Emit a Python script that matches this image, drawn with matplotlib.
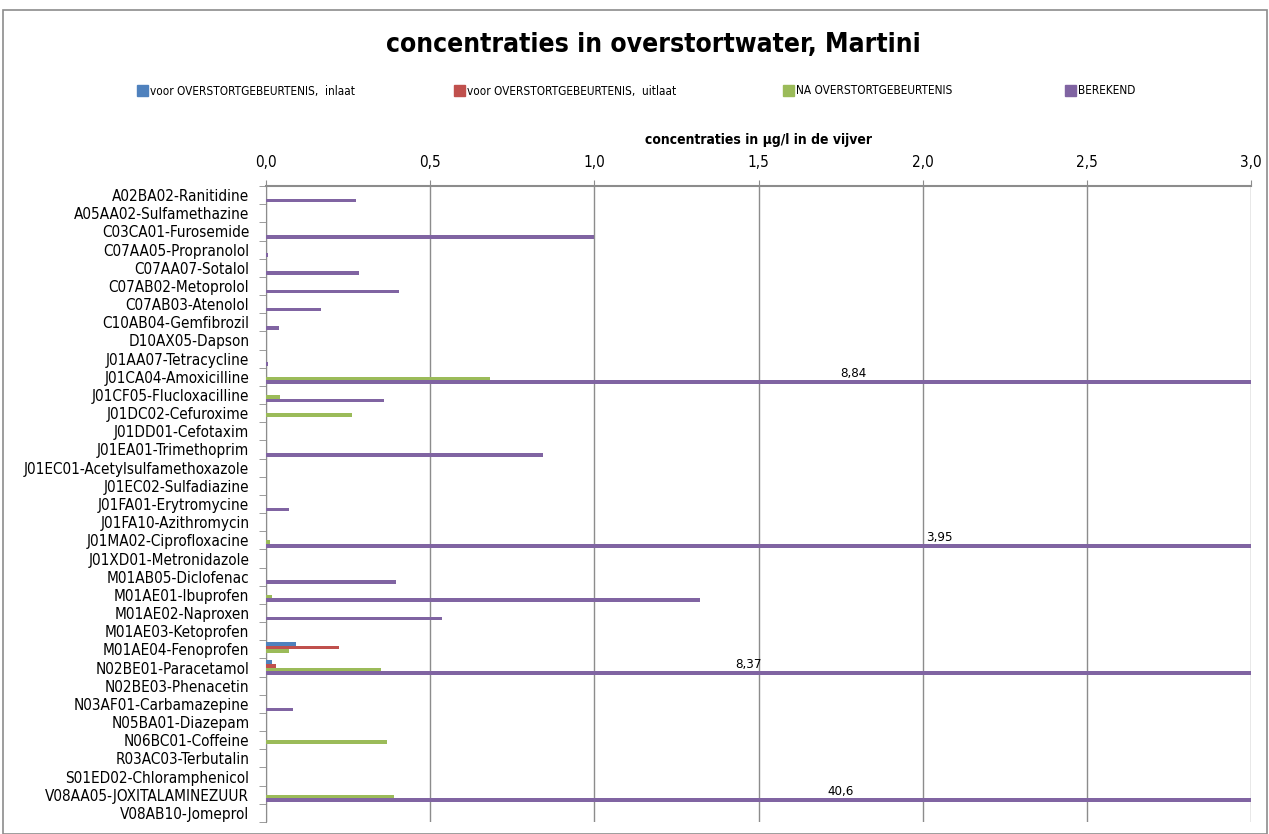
import numpy as np
import matplotlib.pyplot as plt
from matplotlib.patches import Rectangle, Patch
from matplotlib.ticker import FuncFormatter, MultipleLocator

plt.rcParams['font.family'] = ['DejaVu Sans']
plt.rcParams['font.stretch'] = 'condensed'

#%% Data (µg/l)
stoffen = ['A02BA02-Ranitidine', 'A05AA02-Sulfamethazine', 'C03CA01-Furosemide',
           'C07AA05-Propranolol', 'C07AA07-Sotalol', 'C07AB02-Metoprolol',
           'C07AB03-Atenolol', 'C10AB04-Gemfibrozil', 'D10AX05-Dapson',
           'J01AA07-Tetracycline', 'J01CA04-Amoxicilline', 'J01CF05-Flucloxacilline',
           'J01DC02-Cefuroxime', 'J01DD01-Cefotaxim', 'J01EA01-Trimethoprim',
           'J01EC01-Acetylsulfamethoxazole', 'J01EC02-Sulfadiazine',
           'J01FA01-Erytromycine', 'J01FA10-Azithromycin', 'J01MA02-Ciprofloxacine',
           'J01XD01-Metronidazole', 'M01AB05-Diclofenac', 'M01AE01-Ibuprofen',
           'M01AE02-Naproxen', 'M01AE03-Ketoprofen', 'M01AE04-Fenoprofen',
           'N02BE01-Paracetamol', 'N02BE03-Phenacetin', 'N03AF01-Carbamazepine',
           'N05BA01-Diazepam', 'N06BC01-Coffeine', 'R03AC03-Terbutalin',
           'S01ED02-Chloramphenicol', 'V08AA05-JOXITALAMINEZUUR', 'V08AB10-Jomeprol']

voor_inlaat = [0, 0, 0, 0, 0, 0, 0, 0, 0, 0, 0, 0, 0, 0, 0, 0, 0, 0, 0, 0,
               0, 0, 0, 0, 0, 0.092, 0.019, 0, 0, 0, 0, 0, 0, 0, 0]
voor_uitlaat = [0, 0, 0, 0, 0, 0, 0, 0, 0, 0, 0, 0, 0, 0, 0, 0, 0, 0, 0, 0,
                0, 0, 0, 0, 0, 0.223, 0.030, 0, 0, 0, 0, 0, 0, 0, 0]
na_overstort = [0, 0, 0, 0, 0, 0, 0, 0, 0, 0, 0.682, 0.042, 0.262, 0, 0, 0, 0, 0, 0, 0.011,
                0, 0, 0.019, 0, 0, 0.071, 0.350, 0, 0, 0, 0.370, 0, 0, 0.391, 0]
berekend = [0.273, 0, 1.0, 0.005, 0.283, 0.406, 0.167, 0.040, 0, 0.005, 8.84, 0.359, 0, 0,
            0.843, 0, 0, 0.071, 0, 3.95, 0, 0.395, 1.322, 0.536, 0, 0, 8.37, 0, 0.082,
            0, 0, 0, 0, 40.6, 0]

reeksen = ['voor OVERSTORTGEBEURTENIS,  inlaat', 'voor OVERSTORTGEBEURTENIS,  uitlaat',
           'NA OVERSTORTGEBEURTENIS', 'BEREKEND']
kleuren = ['#4F81BD', '#C0504D', '#9BBB59', '#8064A2']

# x position of the labels for bars running past the axis
label_x = {10: 1.79, 19: 2.05, 26: 1.47, 33: 1.75}
# legend entries, left edge in pixels
legend_px = [137, 454, 783, 1065]

#%% Plot
W, H = 1269, 834
fig = plt.figure(figsize=(W / 100, H / 100), dpi=100)
fig.patches.append(Rectangle((3 / W, 0), 1264 / W, 824 / H, transform=fig.transFigure,
                             fill=False, ec='#8c8c8c', lw=1.2))
ax = fig.add_axes([266 / W, 12 / H, 985 / W, 636 / H])

y = np.arange(len(stoffen))
h = 0.2
for k, (vals, c) in enumerate(zip([voor_inlaat, voor_uitlaat, na_overstort, berekend], kleuren)):
    ax.barh(y + (k - 1.5) * h, vals, height=h, color=c, label=reeksen[k], zorder=3)

for i, xl in label_x.items():
    ax.text(xl, y[i] + 0.3 - 0.12, f'{berekend[i]:g}'.replace('.', ','), ha='center', va='bottom',
            fontsize=9.5, zorder=4)

ax.set_xlim(0, 3.0)
ax.set_ylim(len(stoffen) - 0.5, -0.5)
ax.xaxis.set_major_locator(MultipleLocator(0.5))
ax.xaxis.set_major_formatter(FuncFormatter(lambda v, p: f'{v:.1f}'.replace('.', ',')))
ax.xaxis.tick_top()
ax.xaxis.set_label_position('top')
ax.set_xlabel('concentraties in µg/l in de vijver', fontsize=10, fontweight='bold', labelpad=8)
ax.tick_params(axis='x', length=4, color='#8c8c8c', pad=7.5, labelsize=11)

ax.set_yticks(y)
ax.set_yticklabels(stoffen, fontsize=11)
ax.set_yticks(np.arange(len(stoffen) + 1) - 0.5, minor=True)
ax.tick_params(axis='y', which='major', length=0, pad=12)
ax.tick_params(axis='y', which='minor', length=5, color='#8c8c8c')

ax.grid(axis='x', color='#8c8c8c', lw=1, zorder=0)
for s in ['right', 'bottom']:
    ax.spines[s].set_visible(False)
ax.spines['top'].set_color('#8c8c8c')
ax.spines['top'].set_linewidth(1.5)
ax.spines['left'].set_color('#8c8c8c')

fig.text(653 / W, 1 - 45 / H, 'concentraties in overstortwater, Martini', ha='center', va='center',
         fontsize=19, fontweight='bold')
for naam, c, px in zip(reeksen, kleuren, legend_px):
    leg = fig.legend([Patch(color=c)], [naam], loc='center left',
                     bbox_to_anchor=(px / W, 1 - 91 / H), frameon=False, fontsize=8.5,
                     handlelength=0.95, handleheight=0.95, handletextpad=0.15, borderpad=0,
                     borderaxespad=0)

fig.savefig('out.png', dpi=100)
